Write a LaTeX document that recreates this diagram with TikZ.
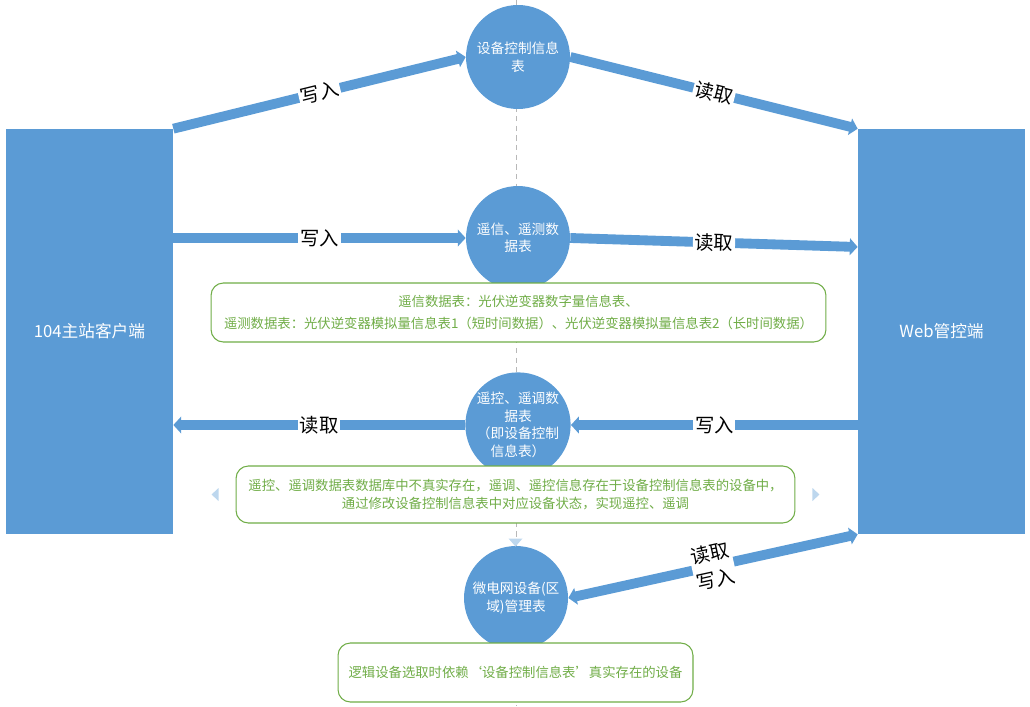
\documentclass[tikz,border=0pt]{standalone}
\usepackage{fontspec}
\setmainfont{Noto Sans CJK SC}
\usetikzlibrary{arrows.meta,positioning,calc}
\definecolor{boxblue}{HTML}{5B9BD5}
\definecolor{notegreen}{HTML}{70AD47}
\definecolor{hintblue}{HTML}{BDD7EE}
\tikzset{
  side/.style={rectangle, fill=boxblue, text=white, minimum width=3.34cm, minimum height=8.1cm,
    font=\fontsize{9.5}{11}\selectfont},
  tbl/.style={circle, fill=boxblue, text=white, minimum size=2.08cm, inner sep=0pt, align=center,
    font=\fontsize{7.8}{10}\selectfont},
  note/.style={rectangle, rounded corners=7pt, draw=notegreen, line width=0.6pt, fill=white,
    text=notegreen, align=center, inner sep=2pt, font=\fontsize{7.6}{10}\selectfont},
  flow/.style={draw=boxblue, line width=5.6pt, -{Triangle[width=9.5pt, length=4.5pt]}},
  act/.style={font=\fontsize{11}{13}\selectfont, fill=white, inner sep=1pt, sloped},
}

\begin{document}
\begin{tikzpicture}[x=0.02cm, y=-0.02cm,
  axis/.style={draw=black!28, line width=0.5pt, dash pattern=on 3pt off 2.5pt},
  hint/.style={fill=hintblue}]
  \useasboundingbox (0,0) rectangle (1030,706);
  % centre line
  \coordinate (top) at (516,0);
  \coordinate (bot) at (516,706);
  \draw[axis] (top) -- (bot);
  % the two ends
  \node[side] (lft) at (89.5,331.5) {104主站客户端};
  \node[side] (rgt) at (941.5,331.5) {Web管控端};
  % tables
  \node[tbl] (ctl) at (518,57) {设备控制信息\\表};
  \node[tbl] (tel) at (518,238) {遥信、遥测数\\据表};
  \node[tbl] (rc) at (518,425) {遥控、遥调数\\据表\\（即设备控制\\信息表）};
  \node[tbl] (mg) at (516,598) {微电网设备(区\\域)管理表};
  % notes
  \node[note, minimum width=12.3cm, minimum height=1.18cm] (n1) at (518.5,312.5)
    {遥信数据表：光伏逆变器数字量信息表、\\[3pt]遥测数据表：光伏逆变器模拟量信息表1（短时间数据）、光伏逆变器模拟量信息表2（长时间数据）};
  \node[note, minimum width=11.18cm, minimum height=1.14cm] (n2) at (515.5,494.5)
    {遥控、遥调数据表数据库中不真实存在，遥调、遥控信息存在于设备控制信息表的设备中，\\通过修改设备控制信息表中对应设备状态，实现遥控、遥调};
  \node[note, minimum width=7.1cm, minimum height=1.18cm] (n3) at (515.5,672.5)
    {逻辑设备选取时依赖‘设备控制信息表’真实存在的设备};
  \fill[hint] ($(n2.west)+(-24,0)$) -- ++(7,-6.5) -- ++(0,13) -- cycle;
  \fill[hint] ($(n2.east)+(24,0)$) -- ++(-7,-6.5) -- ++(0,13) -- cycle;
  \fill[hint] ($(n2.south)+(0,23)$) -- ++(-7,-8) -- ++(14,0) -- cycle;
  % flows
  \draw[flow] (lft.north east) -- node[act] {写入} (ctl.west);
  \draw[flow] (ctl.east) -- node[act] {读取} (rgt.north west);
  \draw[flow] (tel.west -| lft.east) -- node[act] {写入} (tel.west);
  \draw[flow] (tel.east) -- node[act] {读取} ([yshift=-0.18cm]tel.east -| rgt.west);
  \draw[flow] (rc.east -| rgt.west) -- node[act] {写入} (rc.east);
  \draw[flow] (rc.west) -- node[act] {读取} (rc.west -| lft.east);
  \draw[flow, {Triangle[width=9.5pt, length=4.5pt]}-{Triangle[width=9.5pt, length=4.5pt]}]
    (mg.east) -- node[act, align=center] {读取\\[2pt]写入} (rgt.south west);
\end{tikzpicture}
\end{document}
